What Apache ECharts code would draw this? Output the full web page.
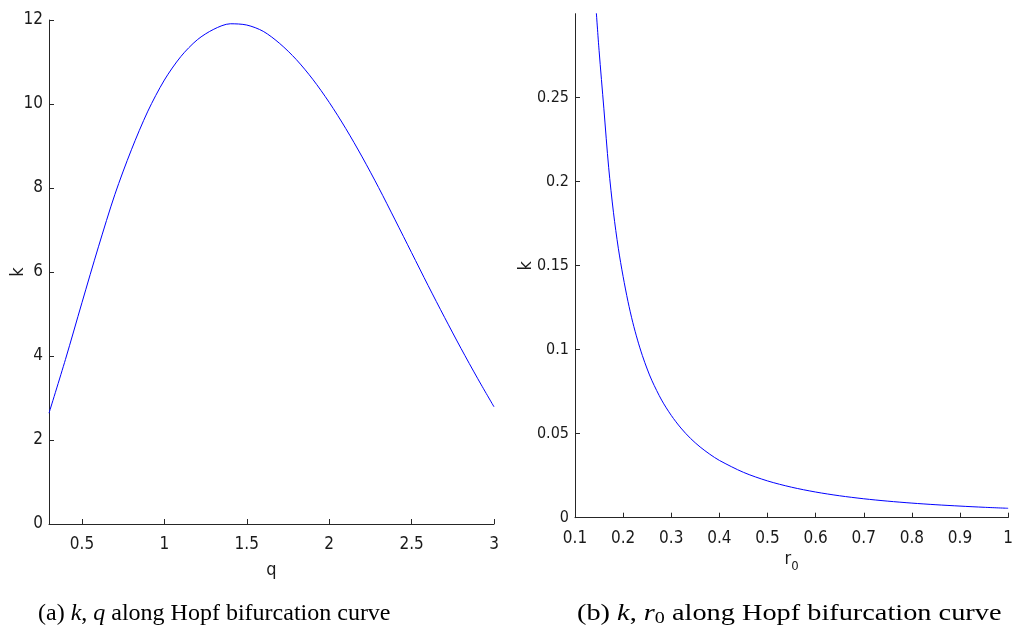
<!DOCTYPE html>
<html>
<head>
<meta charset="utf-8">
<script src="https://cdn.jsdelivr.net/npm/echarts@6/dist/echarts.min.js"></script>
<style>
html,body{margin:0;padding:0;background:#fff;}
#c{width:1016px;height:635px;}
</style>
</head>
<body>
<div id="c"></div>
<script>
// Panel (a): k versus q along Hopf bifurcation curve
var qValues = [0.3, 0.4, 0.5, 0.6, 0.7, 0.8, 0.9, 1.0, 1.1, 1.2, 1.3, 1.4, 1.5, 1.6, 1.7, 1.8, 1.9, 2.0, 2.1, 2.2, 2.3, 2.4, 2.5, 2.6, 2.7, 2.8, 2.9, 3.0];
var kOfQ    = [2.64, 3.92, 5.27, 6.60, 7.85, 8.91, 9.83, 10.57, 11.13, 11.53, 11.78, 11.91, 11.88, 11.73, 11.44, 11.06, 10.59, 10.04, 9.42, 8.74, 8.01, 7.24, 6.46, 5.68, 4.92, 4.18, 3.47, 2.79];
var qTicks  = [0.5, 1, 1.5, 2, 2.5, 3];
var kTicksA = [0, 2, 4, 6, 8, 10, 12];

// Panel (b): k versus r0 along Hopf bifurcation curve
var r0Values = [0.144, 0.15, 0.16, 0.17, 0.18, 0.19, 0.2, 0.21, 0.22, 0.23, 0.24, 0.25, 0.26, 0.28, 0.30, 0.32, 0.34, 0.36, 0.38, 0.40, 0.45, 0.50, 0.55, 0.60, 0.65, 0.70, 0.75, 0.80, 0.85, 0.90, 0.95, 1.0];
var kOfR0    = [0.3019, 0.2782, 0.2434, 0.2083, 0.1815, 0.1604, 0.1435, 0.1288, 0.1163, 0.1057, 0.0965, 0.0885, 0.0815, 0.0700, 0.0609, 0.0534, 0.0472, 0.0421, 0.0378, 0.0341, 0.0270, 0.0219, 0.01815, 0.01528, 0.01304, 0.01127, 0.00985, 0.00869, 0.00772, 0.00691, 0.0062, 0.0056];
var r0Ticks  = [0.1, 0.2, 0.3, 0.4, 0.5, 0.6, 0.7, 0.8, 0.9, 1];
var kTicksB  = [0, 0.05, 0.1, 0.15, 0.2, 0.25];

var captionA = ['(a) ', 'k', ', ', 'q', ' along Hopf bifurcation curve'];
var captionB = ['(b) ', 'k', ', ', 'r', '0', ' along Hopf bifurcation curve'];

function pairs(xs, ys){ return xs.map(function(x,i){ return [x, ys[i]]; }); }

var FONT = '"Liberation Sans Narrow", "DejaVu Sans Condensed", "Liberation Sans", Arial, sans-serif';
var SERIF = '"Liberation Serif", "DejaVu Serif", serif';
var axisCol = '#262626';
var txtCol = '#1a1a1a';

function xAx(grid, min, max, ticks, name, gap){
  return {
    type:'value', gridIndex:grid, min:min, max:max,
    axisLine:{show:true, onZero:false, lineStyle:{color:axisCol, width:1}},
    axisTick:{show:true, inside:true, length:5, customValues:ticks, lineStyle:{color:axisCol}},
    axisLabel:{customValues:ticks, margin:12, fontSize:17, fontFamily:FONT, color:txtCol,
      formatter:function(v){ return String(v); }},
    splitLine:{show:false},
    name:name, nameLocation:'middle', nameGap:gap, nameMoveOverlap:false,
    nameTextStyle:{fontSize:18, fontFamily:FONT, color:txtCol,
      rich:{r:{fontSize:18, fontFamily:FONT, color:txtCol}, s:{fontSize:13, fontFamily:FONT, color:txtCol, padding:[14,0,0,0]}}}
  };
}
function yAx(grid, min, max, ticks, gap, fs){
  return {
    type:'value', gridIndex:grid, min:min, max:max,
    axisLine:{show:true, onZero:false, lineStyle:{color:axisCol, width:1}},
    axisTick:{show:true, inside:true, length:5, customValues:ticks, lineStyle:{color:axisCol}},
    axisLabel:{customValues:ticks, margin:6, fontSize:fs, fontFamily:FONT, color:txtCol,
      formatter:function(v){ return String(v); }},
    splitLine:{show:false},
    name:'k', nameLocation:'middle', nameGap:gap, nameRotate:90, nameMoveOverlap:false,
    nameTextStyle:{fontSize:18, fontFamily:FONT, color:txtCol}
  };
}

var chart = echarts.init(document.getElementById('c'), null, {renderer:'canvas'});
chart.setOption({
  animation:false,
  backgroundColor:'#fff',
  grid:[
    {left:49, top:20, width:445, height:504},
    {left:575, top:13.7, width:438, height:504}
  ],
  xAxis:[ xAx(0, 0.3, 3, qTicks, 'q', 37), xAx(1, 0.1, 1, r0Ticks, '{r|r}{s|0}', 28) ],
  yAxis:[ yAx(0, 0, 12, kTicksA, 22, 17), yAx(1, 0, 0.3, kTicksB, 40, 16) ],
  series:[
    {type:'line', xAxisIndex:0, yAxisIndex:0, data:pairs(qValues,kOfQ), smooth:0.3, showSymbol:false,
      lineStyle:{color:'#0000ff', width:1}, clip:true},
    {type:'line', xAxisIndex:1, yAxisIndex:1, data:pairs(r0Values,kOfR0), smooth:0.3, showSymbol:false,
      lineStyle:{color:'#0000ff', width:1}, clip:true}
  ],
  graphic:[
    {type:'text', x:38, y:600,
      style:{
        x:0, y:0, verticalAlign:'top',
        text:'{n|'+captionA[0]+'}{i|'+captionA[1]+'}{n|'+captionA[2]+'}{i|'+captionA[3]+'}{n|'+captionA[4]+'}',
        rich:{
          n:{fontSize:24, fontFamily:SERIF, fill:'#000', lineHeight:28},
          i:{fontSize:24, fontFamily:SERIF, fontStyle:'italic', fill:'#000', lineHeight:28}
        }
      }},
    {type:'text', x:577, y:600, scaleX:1.18,
      style:{
        x:0, y:0, verticalAlign:'top',
        text:'{n|'+captionB[0]+'}{i|'+captionB[1]+'}{n|'+captionB[2]+'}{i|'+captionB[3]+'}{s|'+captionB[4]+'}{n|'+captionB[5]+'}',
        rich:{
          n:{fontSize:24, fontFamily:SERIF, fill:'#000', lineHeight:28},
          i:{fontSize:24, fontFamily:SERIF, fontStyle:'italic', fill:'#000', lineHeight:28},
          s:{fontSize:17, fontFamily:SERIF, fill:'#000', lineHeight:28, padding:[10,0,0,0]}
        }
      }}
  ]
});
</script>
</body>
</html>
